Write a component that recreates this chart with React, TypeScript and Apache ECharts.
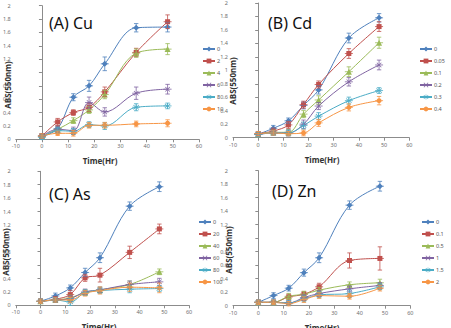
import React, { useEffect, useRef } from 'react';
import * as echarts from 'echarts';

// Sampling times (hours)
const TIME_HR = [0, 6, 12, 18, 24, 36, 48];

// Series colours and markers, in legend order
const SERIES_COLORS = ['#4F81BD', '#C0504D', '#9BBB59', '#8064A2', '#4BACC6', '#F79646'];
const X_MARK = 'path://M1,0L5,4L9,0L10,1L6,5L10,9L9,10L5,6L1,10L0,9L4,5L0,1Z';
const STAR_MARK =
  'path://M4.4,0H5.6V4.2L8.8,1L9.6,1.8L6.4,5L9.6,8.2L8.8,9L5.6,5.8V10H4.4V5.8L1.2,9L0.4,8.2L3.6,5L0.4,1.8L1.2,1L4.4,4.2Z';
const SERIES_SYMBOLS = ['diamond', 'rect', 'triangle', X_MARK, STAR_MARK, 'circle'];
const SYMBOL_SIZES = [6, 5, 6, 5, 6, 5];

// (A) Cu
const CU_LEVELS = ['0', '2', '4', '6', '8', '10'];
const CU_ABS = [
  [0.04, 0.16, 0.63, 0.8, 1.13, 1.67, 1.68],
  [0.05, 0.26, 0.4, 0.48, 0.71, 1.3, 1.76],
  [0.05, 0.15, 0.28, 0.44, 0.67, 1.29, 1.35],
  [0.05, 0.15, 0.13, 0.55, 0.41, 0.69, 0.75],
  [0.03, 0.13, 0.12, 0.22, 0.2, 0.48, 0.5],
  [0.05, 0.09, 0.09, 0.21, 0.21, 0.23, 0.24],
];
const CU_ERR = [
  [0.01, 0.02, 0.03, 0.06, 0.08, 0.04, 0.05],
  [0.01, 0.03, 0.02, 0.04, 0.05, 0.04, 0.08],
  [0.01, 0.02, 0.02, 0.03, 0.04, 0.04, 0.06],
  [0.01, 0.02, 0.03, 0.06, 0.04, 0.07, 0.05],
  [0.01, 0.02, 0.02, 0.02, 0.03, 0.03, 0.02],
  [0.01, 0.01, 0.02, 0.02, 0.02, 0.02, 0.03],
];

// (B) Cd
const CD_LEVELS = ['0', '0.05', '0.1', '0.2', '0.3', '0.4'];
const CD_ABS = [
  [0.05, 0.14, 0.25, 0.48, 0.71, 1.48, 1.78],
  [0.06, 0.1, 0.19, 0.49, 0.79, 1.25, 1.65],
  [0.05, 0.08, 0.08, 0.35, 0.56, 0.98, 1.41],
  [0.05, 0.07, 0.07, 0.2, 0.47, 0.83, 1.08],
  [0.05, 0.07, 0.07, 0.18, 0.32, 0.55, 0.7],
  [0.06, 0.07, 0.06, 0.07, 0.22, 0.45, 0.55],
];
const CD_ERR = [
  [0.01, 0.02, 0.02, 0.03, 0.04, 0.05, 0.04],
  [0.01, 0.02, 0.03, 0.03, 0.03, 0.05, 0.05],
  [0.01, 0.01, 0.02, 0.03, 0.04, 0.05, 0.06],
  [0.01, 0.01, 0.02, 0.04, 0.03, 0.04, 0.05],
  [0.01, 0.01, 0.02, 0.03, 0.03, 0.03, 0.02],
  [0.01, 0.01, 0.01, 0.02, 0.03, 0.03, 0.04],
];

// (C) As
const AS_LEVELS = ['0', '20', '40', '60', '80', '100'];
const AS_ABS = [
  [0.06, 0.14, 0.26, 0.49, 0.71, 1.48, 1.77],
  [0.06, 0.09, 0.16, 0.41, 0.45, 0.79, 1.14],
  [0.06, 0.08, 0.11, 0.19, 0.23, 0.31, 0.5],
  [0.06, 0.08, 0.1, 0.2, 0.23, 0.31, 0.35],
  [0.06, 0.08, 0.05, 0.19, 0.22, 0.24, 0.25],
  [0.06, 0.08, 0.08, 0.18, 0.22, 0.27, 0.26],
];
const AS_ERR = [
  [0.01, 0.02, 0.02, 0.04, 0.05, 0.04, 0.05],
  [0.01, 0.02, 0.04, 0.03, 0.08, 0.07, 0.05],
  [0.01, 0.01, 0.02, 0.02, 0.02, 0.03, 0.02],
  [0.01, 0.01, 0.02, 0.02, 0.02, 0.03, 0.03],
  [0.01, 0.01, 0.03, 0.02, 0.02, 0.03, 0.02],
  [0.01, 0.01, 0.02, 0.02, 0.03, 0.04, 0.05],
];

// (D) Zn
const ZN_LEVELS = ['0', '0.1', '0.5', '1', '1.5', '2'];
const ZN_ABS = [
  [0.05, 0.15, 0.26, 0.49, 0.71, 1.49, 1.77],
  [0.05, 0.05, 0.13, 0.17, 0.28, 0.67, 0.7],
  [0.05, 0.05, 0.14, 0.17, 0.23, 0.31, 0.34],
  [0.05, 0.05, 0.04, 0.12, 0.18, 0.25, 0.3],
  [0.05, 0.05, 0.04, 0.1, 0.16, 0.18, 0.28],
  [0.05, 0.05, 0.03, 0.09, 0.15, 0.14, 0.26],
];
const ZN_ERR = [
  [0.01, 0.02, 0.02, 0.03, 0.05, 0.04, 0.05],
  [0.01, 0.01, 0.02, 0.02, 0.03, 0.09, 0.15],
  [0.01, 0.01, 0.02, 0.02, 0.02, 0.02, 0.03],
  [0.01, 0.01, 0.01, 0.02, 0.02, 0.02, 0.02],
  [0.01, 0.01, 0.01, 0.02, 0.02, 0.03, 0.02],
  [0.01, 0.01, 0.01, 0.02, 0.02, 0.02, 0.02],
];

const Y_NAME = 'ABS(550nm)';
const X_NAME = 'Time(Hr)';

const PANELS = [
  {
    id: 'A', title: '(A) Cu', levels: CU_LEVELS, abs: CU_ABS, err: CU_ERR,
    grid: { left: 12, top: 5.7, width: 187, height: 133.6 },
    legend: { left: 202, top: 46 },
    titlePos: [49, 22.5], yNamePos: [7, 85], xNamePos: [100, 160],
  },
  {
    id: 'B', title: '(B) Cd', levels: CD_LEVELS, abs: CD_ABS, err: CD_ERR,
    grid: { left: 233, top: -5.3, width: 176.3, height: 143 },
    legend: { left: 419, top: 46 },
    titlePos: [268, 22.5], yNamePos: [232, 81], xNamePos: [322, 159],
  },
  {
    id: 'C', title: '(C) As', levels: AS_LEVELS, abs: AS_ABS, err: AS_ERR,
    grid: { left: 10.1, top: 171.3, width: 179, height: 134 },
    legend: { left: 198, top: 219 },
    titlePos: [49, 193.5], yNamePos: [5, 252], xNamePos: [99, 326],
  },
  {
    id: 'D', title: '(D) Zn', levels: ZN_LEVELS, abs: ZN_ABS, err: ZN_ERR,
    grid: { left: 233, top: 170.7, width: 177.3, height: 135 },
    legend: { left: 421, top: 219 },
    titlePos: [272, 190.5], yNamePos: [228, 250], xNamePos: [322, 327],
  },
];

const AXIS_GRAY = '#8c8c8c';
const LABEL_GRAY = '#6e6e6e';
const FONT = '"Noto Sans", "Liberation Sans", sans-serif';

function buildOption() {
  const grids: any[] = [];
  const xAxes: any[] = [];
  const yAxes: any[] = [];
  const legends: any[] = [];
  const series: any[] = [];
  const graphics: any[] = [];

  PANELS.forEach((p, pi) => {
    grids.push({ ...p.grid, containLabel: false });
    xAxes.push({
      type: 'value', gridIndex: pi, min: -10, max: 60, interval: 10,
      axisLine: { show: true, onZero: true, lineStyle: { color: AXIS_GRAY, width: 1 } },
      axisTick: { show: true, length: 3, lineStyle: { color: AXIS_GRAY } },
      axisLabel: { fontSize: 5.5, color: LABEL_GRAY, margin: 4, fontFamily: FONT },
      splitLine: { show: false },
    });
    yAxes.push({
      type: 'value', gridIndex: pi, min: 0, max: 2, interval: 0.2,
      axisLine: { show: true, onZero: true, lineStyle: { color: AXIS_GRAY, width: 1 } },
      axisTick: { show: true, length: 3, lineStyle: { color: AXIS_GRAY } },
      axisLabel: { fontSize: 5.5, color: LABEL_GRAY, margin: 5, fontFamily: FONT },
      splitLine: { show: false },
    });

    const names = p.levels.map((lv) => `${p.id}|${lv}`);
    legends.push({
      data: names,
      orient: 'vertical',
      left: p.legend.left,
      top: p.legend.top,
      itemWidth: 12,
      itemHeight: 6,
      itemGap: 6,
      padding: 0,
      selectedMode: false,
      formatter: (n: string) => n.split('|')[1],
      textStyle: { fontSize: 5.5, color: '#555', fontFamily: FONT, padding: [0, 0, 0, -3] },
    });

    p.levels.forEach((lv, si) => {
      const color = SERIES_COLORS[si];
      series.push({
        name: names[si],
        type: 'line',
        xAxisIndex: pi,
        yAxisIndex: pi,
        smooth: 0.35,
        data: TIME_HR.map((t, k) => [t, p.abs[si][k]]),
        symbol: SERIES_SYMBOLS[si],
        symbolSize: SYMBOL_SIZES[si],
        showAllSymbol: true,
        lineStyle: { color, width: 1 },
        itemStyle: { color },
        z: 3,
      });
      // error bars with caps and a short horizontal stroke through each point
      series.push({
        name: `${names[si]}|err`,
        type: 'custom',
        xAxisIndex: pi,
        yAxisIndex: pi,
        data: TIME_HR.map((t, k) => [t, p.abs[si][k], p.err[si][k]]),
        encode: { x: 0, y: 1 },
        clip: false,
        z: 4,
        renderItem: (_params: any, api: any) => {
          const x = api.value(0);
          const y = api.value(1);
          const e = api.value(2);
          const top = api.coord([x, y + e]);
          const bot = api.coord([x, y - e]);
          const mid = api.coord([x, y]);
          const cap = 2.2;
          const st = { stroke: color, lineWidth: 0.8 };
          return {
            type: 'group',
            children: [
              { type: 'line', shape: { x1: top[0], y1: top[1] - 1.5, x2: bot[0], y2: bot[1] + 1.5 }, style: st },
              { type: 'line', shape: { x1: top[0] - cap, y1: top[1] - 1.5, x2: top[0] + cap, y2: top[1] - 1.5 }, style: st },
              { type: 'line', shape: { x1: bot[0] - cap, y1: bot[1] + 1.5, x2: bot[0] + cap, y2: bot[1] + 1.5 }, style: st },
              { type: 'line', shape: { x1: mid[0] - 4, y1: mid[1], x2: mid[0] + 4, y2: mid[1] }, style: st },
            ],
          };
        },
      });
    });

    graphics.push({
      type: 'text', x: p.titlePos[0], y: p.titlePos[1],
      style: { text: p.title, font: `16px ${FONT}`, fill: '#111', textVerticalAlign: 'middle' },
    });
    graphics.push({
      type: 'text', x: p.yNamePos[0], y: p.yNamePos[1], rotation: Math.PI / 2,
      style: {
        text: Y_NAME, font: `bold 8px ${FONT}`, fill: '#333',
        textAlign: 'center', textVerticalAlign: 'middle',
      },
    });
    graphics.push({
      type: 'text', x: p.xNamePos[0], y: p.xNamePos[1],
      style: {
        text: X_NAME, font: `bold 8px ${FONT}`, fill: '#333',
        textAlign: 'center', textVerticalAlign: 'middle',
      },
    });
  });

  return {
    animation: false,
    backgroundColor: '#ffffff',
    grid: grids,
    xAxis: xAxes,
    yAxis: yAxes,
    legend: legends,
    series,
    graphic: graphics,
  };
}

export default function App() {
  const ref = useRef<HTMLDivElement>(null);
  useEffect(() => {
    if (!ref.current) return;
    const chart = echarts.init(ref.current, undefined, { renderer: 'svg' });
    chart.setOption(buildOption() as any);
    return () => chart.dispose();
  }, []);
  return (
    <div
      ref={ref}
      style={{ position: 'fixed', left: 0, top: 0, width: 451, height: 328, background: '#fff' }}
    />
  );
}
